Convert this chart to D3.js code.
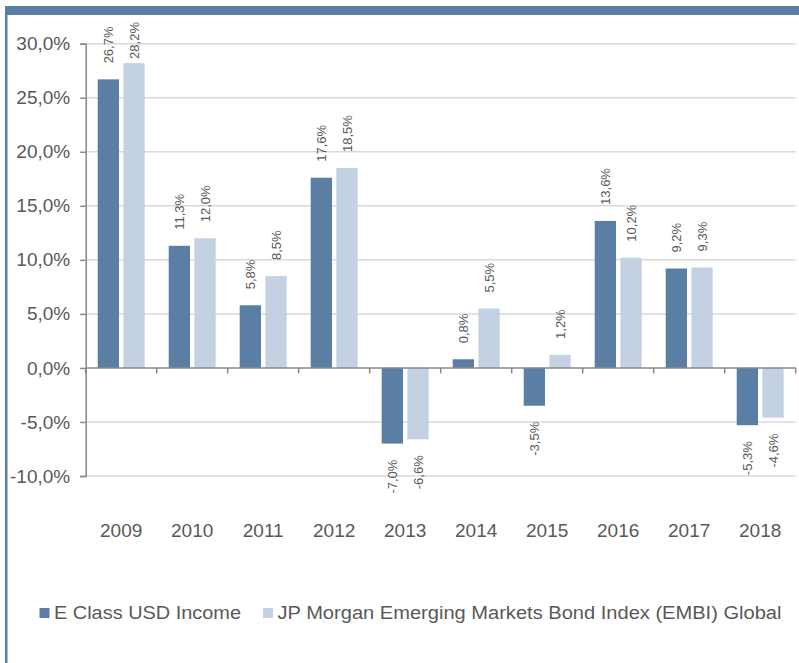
<!DOCTYPE html>
<html>
<head>
<meta charset="utf-8">
<script src="https://cdn.jsdelivr.net/npm/d3@7"></script>
<style>
  html, body { margin: 0; padding: 0; background: #ffffff; }
  svg { display: block; font-family: "Liberation Sans", Arial, sans-serif; }
</style>
</head>
<body>
<svg id="chart" width="799" height="663"></svg>
<script>
// Calendar-year returns, in percent
const years = ["2009", "2010", "2011", "2012", "2013", "2014", "2015", "2016", "2017", "2018"];
const fundReturns = [26.7, 11.3, 5.8, 17.6, -7.0, 0.8, -3.5, 13.6, 9.2, -5.3];
const indexReturns = [28.2, 12.0, 8.5, 18.5, -6.6, 5.5, 1.2, 10.2, 9.3, -4.6];
const seriesNames = ["E Class USD Income", "JP Morgan Emerging Markets Bond Index (EMBI) Global"];
const yTicks = [-10, -5, 0, 5, 10, 15, 20, 25, 30];

const colors = ["#5b7fa4", "#c3d1e3"];
const textColor = "#595959";
const axisColor = "#888888";
const gridColor = "#d9d9d9";
const fontFamily = "'Liberation Sans', Arial, sans-serif";

const svg = d3.select("#chart");
// Comma decimal separator, plain hyphen for negatives
const fmt = v => d3.format(".1f")(v).replace(".", ",").replace("\u2212", "-") + "%";

// Frame: heading strip and left rule
svg.append("rect").attr("x", 5).attr("y", 6).attr("width", 794).attr("height", 9).attr("fill", "#5b7fa4");
svg.append("rect").attr("x", 5).attr("y", 6).attr("width", 2.5).attr("height", 657).attr("fill", "#5b7fa4");

const plot = { left: 85.7, right: 795.7, top: 43.7, bottom: 476 };

const y = d3.scaleLinear().domain([-10, 30]).range([plot.bottom, plot.top]);
const x0 = d3.scaleBand().domain(years).range([plot.left, plot.right]).padding(0);
const x1 = d3.scaleBand().domain([0, 1]).range([12, x0.bandwidth() - 12]).paddingInner(0.17).paddingOuter(0);

// Horizontal gridlines
svg.append("g").selectAll("line").data(yTicks.filter(t => t !== 0)).join("line")
  .attr("x1", plot.left).attr("x2", plot.right)
  .attr("y1", d => y(d)).attr("y2", d => y(d))
  .attr("stroke", gridColor).attr("stroke-width", 1.5);

// Y axis
const yAxis = svg.append("g").attr("transform", `translate(${plot.left},0)`)
  .call(d3.axisLeft(y).tickValues(yTicks).tickSize(5.5).tickPadding(10).tickFormat(fmt));
yAxis.select(".domain").attr("stroke", axisColor).attr("stroke-width", 1.5);
yAxis.selectAll(".tick line").attr("stroke", axisColor).attr("stroke-width", 1.5);
yAxis.selectAll(".tick text").attr("fill", textColor).attr("font-size", 19)
  .attr("font-family", fontFamily);

// Bars
const series = [fundReturns, indexReturns];
const groups = svg.append("g").selectAll("g").data(years).join("g")
  .attr("transform", d => `translate(${x0(d)},0)`);

groups.selectAll("rect").data((d, i) => series.map((s, k) => ({ k, v: s[i] }))).join("rect")
  .attr("x", d => x1(d.k))
  .attr("width", x1.bandwidth())
  .attr("y", d => y(Math.max(0, d.v)))
  .attr("height", d => Math.abs(y(d.v) - y(0)))
  .attr("fill", d => colors[d.k]);

// Zero line with category ticks
const xAxis = svg.append("g").attr("transform", `translate(0,${y(0)})`);
xAxis.append("line").attr("x1", plot.left).attr("x2", plot.right)
  .attr("stroke", axisColor).attr("stroke-width", 1.5);
const boundaries = years.map(d => x0(d) + x0.bandwidth()).concat([x0(years[0])]);
xAxis.selectAll("line.tk").data(boundaries).join("line").attr("class", "tk")
  .attr("x1", d => d).attr("x2", d => d).attr("y1", 0).attr("y2", 5.5)
  .attr("stroke", axisColor).attr("stroke-width", 1.5);

// Year labels
svg.append("g").selectAll("text").data(years).join("text")
  .attr("x", d => x0(d) + x0.bandwidth() / 2)
  .attr("y", 537)
  .attr("text-anchor", "middle")
  .attr("font-size", 19)
  .attr("fill", textColor)
  .text(d => d);

// Rotated value labels
const labelGap = 16;
const labelTopLimit = 22;
groups.each(function (yr, i) {
  const g = d3.select(this);
  series.forEach((s, k) => {
    const v = s[i];
    const cx = x1(k) + x1.bandwidth() / 2;
    const t = g.append("text")
      .attr("font-size", 13)
      .attr("fill", textColor)
      .attr("dy", "0.35em")
      .text(fmt(v));
    const len = t.node().getComputedTextLength();
    if (v >= 0) {
      let start = y(v) - labelGap;
      if (start - len < labelTopLimit) start = labelTopLimit + len;
      t.attr("text-anchor", "start").attr("transform", `translate(${cx},${start}) rotate(-90)`);
    } else {
      const end = y(v) + labelGap;
      t.attr("text-anchor", "end").attr("transform", `translate(${cx},${end}) rotate(-90)`);
    }
  });
});

// Legend (wide setting of the legend type)
const legendWidths = [187, 504];
const legend = svg.append("g");
let lx = 39.5;
seriesNames.forEach((name, k) => {
  legend.append("rect").attr("x", lx).attr("y", 608).attr("width", 10).attr("height", 10).attr("fill", colors[k]);
  legend.append("text").attr("x", lx + 14.5).attr("y", 619)
    .attr("font-size", 18).attr("fill", textColor)
    .attr("textLength", legendWidths[k]).attr("lengthAdjust", "spacingAndGlyphs")
    .text(name);
  lx = lx + 14.5 + legendWidths[k] + 22;
});
</script>
</body>
</html>
